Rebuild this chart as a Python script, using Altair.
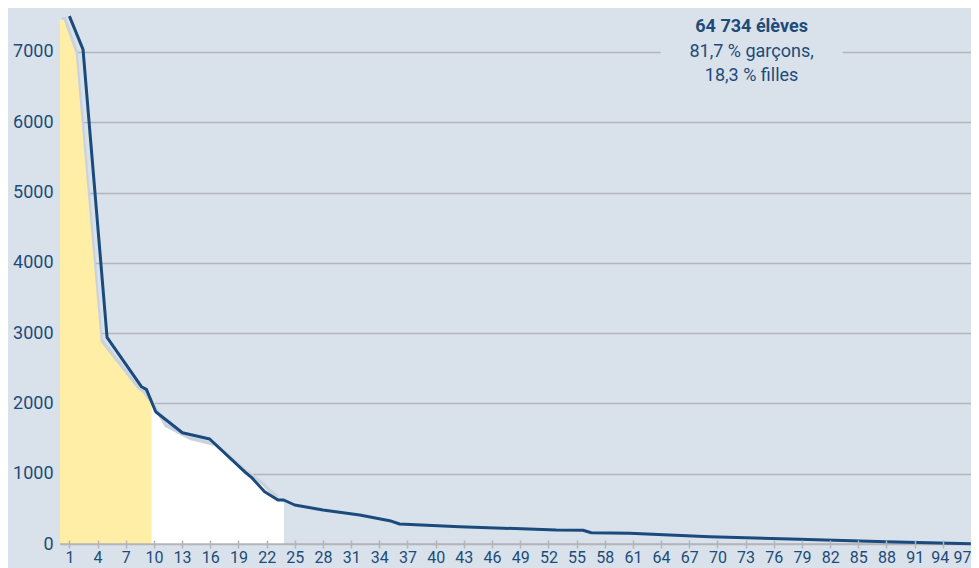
import altair as alt
import pandas as pd

# ---- data ----
line_x = [1.00, 2.45, 5.01, 8.67, 9.20, 10.19, 13.03, 15.94, 19.85, 20.38, 21.79,
          23.21, 23.82, 24.99, 28.0, 31.91, 35.10, 36.16, 42.55, 52.85, 55.68,
          56.57, 60.65, 69.17, 78.74, 87.97, 97.66]
line_v = [7511, 7037, 2940, 2238, 2200, 1882, 1583, 1494, 1006, 949, 744,
          626, 626, 555, 484, 413, 332, 284, 246, 199, 195,
          161, 152, 104, 67, 33, 0]

yellow_x = [0.0, 0.40, 1.67, 4.34, 8.27, 8.81, 9.73]
yellow_v = [7454, 7454, 6980, 2873, 2200, 2150, 1990]

white_x = [9.73, 11.15, 13.81, 16.47, 19.6, 21.61, 21.97, 23.04, 23.85]
white_v = [1990, 1669, 1479, 1394, 1020, 825, 768, 650, 579]

x_ticks = list(range(1, 98, 3))
y_ticks = [0, 1000, 2000, 3000, 4000, 5000, 6000, 7000]

note_bold = "64 734 élèves"
note_lines = ["81,7 % garçons,", "18,3 % filles"]
note_x = 73.64
note_v = 7000
gap_x = [63.95, 83.33]
gap_v = [6880, 7120]

# ---- styling ----
BG = "#d9e2ea"
BLUE = "#1b4a7d"
TXT = "#1d4b7a"
GRID = "#b3b5ba"
YELLOW = "#ffeea6"
SHADOW = "#cad3dd"
FONT = "Roboto"

line_df = pd.DataFrame({"x": line_x, "v": line_v})
yellow_df = pd.DataFrame({"x": yellow_x, "v": yellow_v})
white_df = pd.DataFrame({"x": white_x, "v": white_v})
area_df = pd.concat([yellow_df, white_df.iloc[1:-1]], ignore_index=True)
base_df = pd.DataFrame({"v": [0]})
note_df = pd.DataFrame({"x": [note_x], "v": [note_v]})
gap_df = pd.DataFrame({"x": [gap_x[0]], "x2": [gap_x[1]], "v": [gap_v[0]], "v2": [gap_v[1]]})

xs = alt.Scale(domain=[0, 97.0], nice=False, zero=False)
ys = alt.Scale(domain=[0, 7626], nice=False)

xaxis = alt.Axis(values=x_ticks, grid=False, domain=False, tickColor=GRID,
                 tickWidth=1.5, tickSize=8, offset=-4, labelPadding=1,
                 labelFontSize=16, labelFont=FONT, labelColor=TXT, title=None,
                 labelFlush=True, labelOverlap=False, labelBound=False, zindex=1,
                 labelOffset={"condition": {"test": "datum.value == 94", "value": -3},
                              "value": 0})
yaxis = alt.Axis(values=y_ticks, grid=True, gridColor=GRID, gridWidth=1.5,
                 domain=False, ticks=False, tickSize=0, labelPadding=7,
                 labelFontSize=18, labelFont=FONT, labelColor=TXT, title=None,
                 format="d", labelOverlap=False)

X = alt.X("x:Q", scale=xs, axis=xaxis)
Y = alt.Y("v:Q", scale=ys, axis=yaxis)

shadow = alt.Chart(area_df).mark_area(
    color=SHADOW, xOffset=2, yOffset=-3, x2Offset=2
).encode(x=X, y=Y)

yellow = alt.Chart(yellow_df).mark_area(color=YELLOW, interpolate="linear").encode(x=X, y=Y)
white = alt.Chart(white_df).mark_area(color="#ffffff", interpolate="linear").encode(x=X, y=Y)

base = alt.Chart(base_df).mark_rule(color=GRID, strokeWidth=1.5).encode(y=Y)

line = alt.Chart(line_df).mark_line(color=BLUE, strokeWidth=3, strokeJoin="round").encode(x=X, y=Y)

gap = alt.Chart(gap_df).mark_rect(color=BG).encode(x=X, x2="x2:Q", y=Y, y2="v2:Q")

t_bold = alt.Chart(note_df).mark_text(
    text=note_bold, font=FONT, fontSize=18, fontWeight="bold", color=TXT,
    align="center", baseline="middle", dy=-24.5
).encode(x=X, y=Y)

t_reg = alt.Chart(note_df).mark_text(
    text=note_lines, font=FONT, fontSize=18, color=TXT,
    align="center", baseline="middle", lineHeight=24.5
).encode(x=X, y=Y)

chart = alt.layer(shadow, yellow, white, base, line, gap, t_bold, t_reg).properties(
    width=911, height=536,
    autosize=alt.AutoSizeParams(type="none"),
    padding={"left": 52, "top": 0, "right": 0, "bottom": 24},
    background=BG,
).configure_view(stroke=None)

chart.save("out.html", embed_options={"renderer": "svg", "actions": False})
